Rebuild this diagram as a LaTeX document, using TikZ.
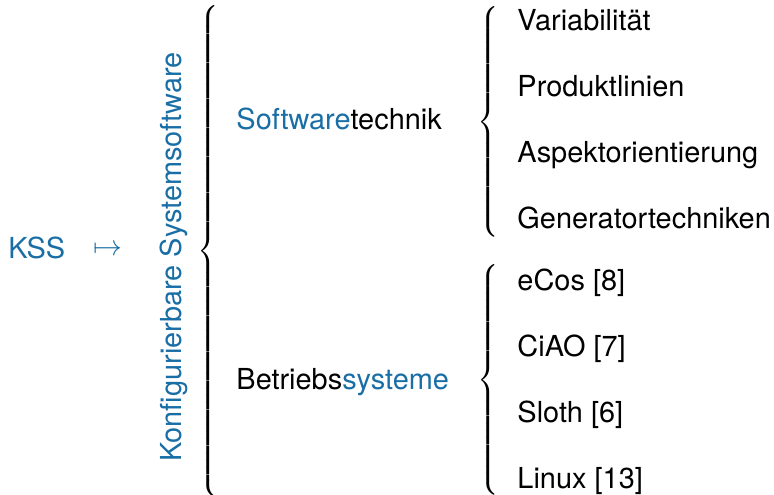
\documentclass[tikz,border=0pt]{standalone}
\usepackage{fontspec}
\setmainfont{TeX Gyre Heros}
\usepackage{tikz}
\usetikzlibrary{positioning}

\definecolor{kssblue}{RGB}{25,110,165}

% geschweifte Klammer, Hoehe als Argument
\newcommand{\klammer}[1]{$\delimiterfactor=1000\delimitershortfall=0pt\left\{\vcenter{\vskip#1}\right.$}

\begin{document}
\begin{tikzpicture}[x=0.415pt,y=-0.415pt,node distance=27.3pt,
    every node/.style={inner sep=0pt,font=\fontsize{12}{14}\selectfont},
    hl/.style={text=kssblue},
    item/.style={anchor=base west},
    brace/.style={font=\fontsize{17}{20}\selectfont}]
   \useasboundingbox (0,0) rectangle (774,495);

   \node[hl,anchor=base west] (kss) at (8,259) {KSS};
   \node[hl] (map) at (108,250) {$\mapsto$};
   \node[hl,rotate=90,anchor=base] (kon) at (181,257) {Konfigurierbare Systemsoftware};

   \node[brace] (b_0) at (210,251) {\klammer{199pt}};

   \node[item] (sw) at (236,130) {{\color{kssblue}Software}technik};
   \node[item] (bs) at (236,389) {Betriebs{\color{kssblue}systeme}};

   \node[brace] (b_1) at (490,122) {\klammer{92.5pt}};
   \node[brace] (b_2) at (490,380) {\klammer{92.5pt}};

   % Themen
   \node[item] (v_1) at (517,31) {Variabilit\"at};
   \node[item] (v_2) [below=of v_1.base west,anchor=base west] {Produktlinien};
   \node[item] (v_3) [below=of v_2.base west,anchor=base west] {Aspektorientierung};
   \node[item] (v_4) [below=of v_3.base west,anchor=base west] {Generatortechniken};

   % Systeme
   \node[item] (s_1) at (517,291) {eCos [8]};
   \node[item] (s_2) [below=of s_1.base west,anchor=base west] {CiAO [7]};
   \node[item] (s_3) [below=of s_2.base west,anchor=base west] {Sloth [6]};
   \node[item] (s_4) [below=of s_3.base west,anchor=base west] {Linux [13]};
\end{tikzpicture}
\end{document}
